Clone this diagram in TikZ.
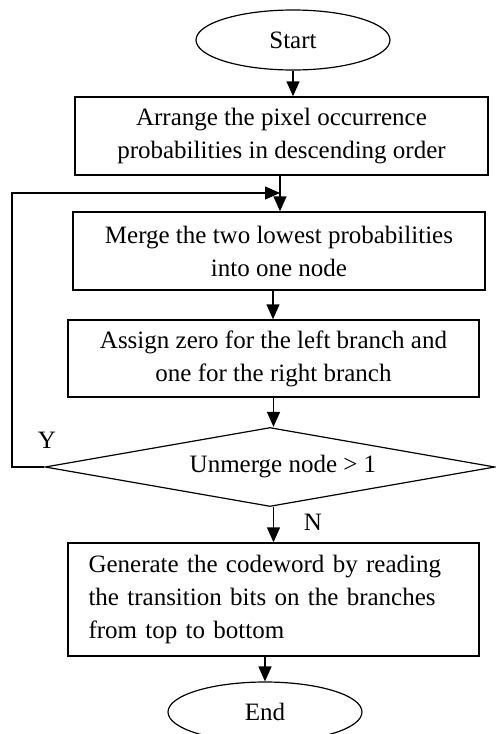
\documentclass[tikz,border=0pt]{standalone}
\usepackage{fontspec}
\setmainfont{Liberation Serif}
\usetikzlibrary{shapes.geometric,arrows.meta,calc}
\begin{document}
\begin{tikzpicture}[x=0.5pt,y=-0.5pt,
  every node/.style={font=\fontsize{12.5}{16.5}\selectfont},
  proc/.style={draw,line width=0.7pt,inner sep=0pt,align=center},
  term/.style={draw,ellipse,line width=0.6pt,inner sep=0pt,minimum width=97pt,minimum height=30pt},
  decis/.style={draw,diamond,aspect=5.7,line width=0.6pt,inner sep=0pt,minimum width=225pt,minimum height=39.5pt},
  arr/.style={line width=0.7pt,-{Triangle[length=7.5pt,width=6.5pt]}},
  lbl/.style={inner sep=0pt}]
\useasboundingbox (0,0) rectangle (496,734);
\node[term] (start) at (293,40) {Start};
\node[proc,minimum width=206.5pt,minimum height=39pt] (b1) at (281.5,136)
  {Arrange the pixel occurrence\\probabilities in descending order};
\node[proc,minimum width=206pt,minimum height=39pt] (b2) at (279,251)
  {Merge the two lowest probabilities\\into one node};
\node[proc,minimum width=205.5pt,minimum height=38.5pt] (b3) at (273.5,358.5)
  {Assign zero for the left branch and\\one for the right branch};
\node[decis] (dia) at (270,467) {\hspace*{13pt}Unmerge node > 1};
\node[proc,minimum width=205.5pt,minimum height=56.5pt,text width=185pt,align=left] (b4) at (273.5,599.5)
  {\makebox[185pt][s]{Generate the codeword by reading}\\\makebox[185pt][s]{the transition bits on the branches}\\from top to bottom};
\node[term] (end) at (265,712) {End};
\node[lbl] (ylab) at (47,440) {Y};
\node[lbl] (nlab) at (313,522) {N};
\coordinate (lx) at (12,0);
\coordinate (lp) at (280,193);
\draw[arr] (start.south) -- (start.south |- b1.north);
\draw[arr] (lp |- b1.south) -- (lp |- b2.north);
\draw[arr] ([xshift=-3pt]b2.south) -- ([xshift=-3pt]b2.south |- b3.north);
\draw[arr] (b3.south) -- (b3.south |- dia.north);
\draw[arr] (b3.south |- dia.south) -- (b3.south |- b4.north);
\draw[arr] (end.north |- b4.south) -- (end.north);
\draw[arr] (dia.west) -- (dia.west -| lx) |- (lp);
\end{tikzpicture}
\end{document}
